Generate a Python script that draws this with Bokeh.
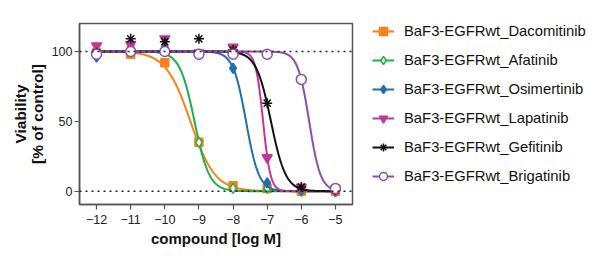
import numpy as np
from bokeh.plotting import figure
from bokeh.models import Span, Legend, LegendItem, FixedTicker
from bokeh.embed import file_html
from bokeh.resources import INLINE

log_conc = [-12, -11, -10, -9, -8, -7, -6, -5]
names = ["BaF3-EGFRwt_Dacomitinib", "BaF3-EGFRwt_Afatinib", "BaF3-EGFRwt_Osimertinib",
         "BaF3-EGFRwt_Lapatinib", "BaF3-EGFRwt_Gefitinib", "BaF3-EGFRwt_Brigatinib"]
dacomitinib = [99, 98, 92, 35, 4, 2, 0, 0]
afatinib = [97, 104, 100, 35, 2, 2, 0, 0]
osimertinib = [96, 102, 103, 98, 88, 6, 1, 0]
lapatinib = [104, 105, 109, 99, 103, 24, 3, 0]
gefitinib = [99, 109, 107, 109, 101, 63, 3, 1]
brigatinib = [98, 100, 100, 98, 98, 98, 80, 2]
# fitted dose-response parameters (log IC50, Hill slope)
log_ic50 = [-9.25, -9.13, -7.62, -7.12, -6.89, -5.77]
hill = [1.2, 2.0, 2.3, 4.0, 2.0, 2.6]
x_ticks = [-12, -11, -10, -9, -8, -7, -6, -5]
y_ticks = [0, 50, 100]

series = [dacomitinib, afatinib, osimertinib, lapatinib, gefitinib, brigatinib]
colors = ["#F7821B", "#1FAF4B", "#1F6EAE", "#C2379A", "#111111", "#8E4EA6"]
markers = ["square", "diamond", "diamond", "inverted_triangle", "asterisk", "circle"]
fills = [True, False, True, True, True, False]
sizes = [8, 10, 10, 10, 10, 10]

p = figure(frame_width=273, frame_height=181, output_backend="svg", toolbar_location=None,
           x_range=(-12.5, -4.5), y_range=(-9.5, 120),
           min_border_left=79, min_border_right=0, min_border_top=23, min_border_bottom=56)
p.grid.visible = False
p.outline_line_color = "#555555"
p.outline_line_width = 1.5
p.background_fill_color = "white"
p.border_fill_color = "white"

for y in [0, 100]:
    p.add_layout(Span(location=y, dimension="width", line_color="#222222",
                      line_dash="2 4", line_width=1.6))

xs = np.linspace(-12, -5, 400)
items = []
for name, data, c, m, f, s, ic, h in zip(names, series, colors, markers, fills, sizes, log_ic50, hill):
    ys = 100.0 / (1 + 10 ** (h * (xs - ic)))
    r1 = p.line(xs, ys, line_color=c, line_width=2)
    r2 = p.scatter(log_conc, data, marker=m, size=s, line_color=c,
                   fill_color=c if f else "white", line_width=1.5)
    items.append(LegendItem(label=name, renderers=[r1, r2]))

for ax in [p.xaxis[0], p.yaxis[0]]:
    ax.axis_line_color = "#555555"
    ax.axis_line_width = 1.5
    ax.major_tick_line_color = "#555555"
    ax.major_tick_line_width = 1.2
    ax.major_tick_in = 0
    ax.major_tick_out = 5
    ax.minor_tick_line_color = None
    ax.major_label_text_font = "Liberation Sans"
    ax.major_label_text_font_size = "12.5px"
    ax.major_label_text_color = "#222222"
    ax.axis_label_text_font = "Liberation Sans"
    ax.axis_label_text_font_style = "bold"
    ax.axis_label_text_font_size = "15px"
    ax.axis_label_text_color = "#111111"

p.xaxis.ticker = FixedTicker(ticks=x_ticks)
p.yaxis.ticker = FixedTicker(ticks=y_ticks)
p.xaxis.axis_label = "compound [log M]"
p.yaxis.axis_label = "Viability\n[% of control]"
p.yaxis.axis_label_text_font_size = "15.5px"
p.yaxis.axis_label_text_line_height = 0.95
p.yaxis.major_label_standoff = 2
p.xaxis.axis_label_standoff = 3
p.yaxis.axis_label_standoff = 3

legend = Legend(items=items, location=(20, 18), orientation="vertical",
                label_text_font="Liberation Sans", label_text_font_size="14.8px",
                label_text_color="#111111", glyph_width=22, glyph_height=20,
                label_height=20, spacing=9, padding=0, margin=0,
                background_fill_alpha=0, border_line_color=None, label_standoff=10)
p.add_layout(legend, "right")

open("out.html", "w").write(file_html(p, INLINE))
